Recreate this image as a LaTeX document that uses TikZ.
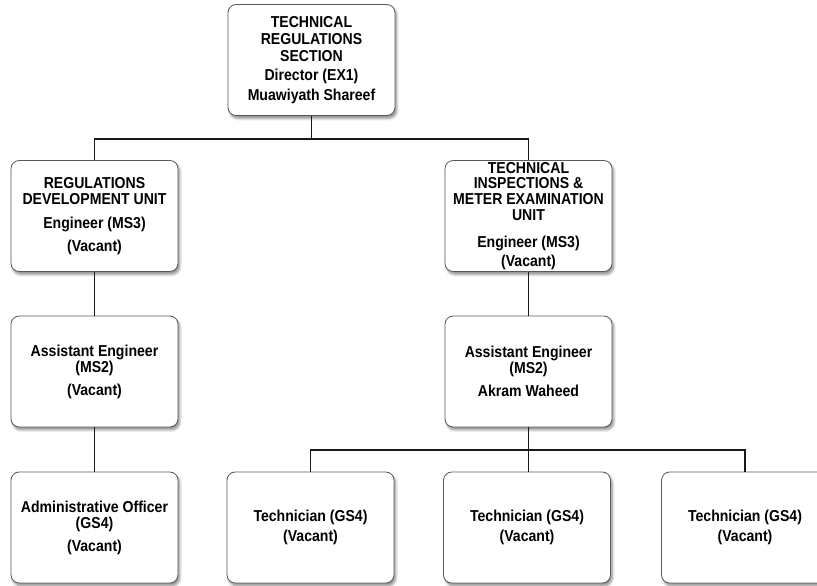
\documentclass[tikz,border=0pt]{standalone}
\usepackage{fontspec}
\setmainfont{Liberation Sans}[FakeStretch=0.89]
\usetikzlibrary{shadows.blur}
\begin{document}
\begin{tikzpicture}[x=0.03cm,y=-0.03cm,
    post/.style={draw=black!65,line width=0.7pt,fill=white,rounded corners=7pt,
        minimum width=5.01cm,minimum height=3.33cm,inner sep=0pt,align=center,
        font=\fontsize{13.5}{13.6}\selectfont\bfseries,
        blur shadow={shadow xshift=1.5pt,shadow yshift=-2.5pt,shadow blur steps=6,shadow opacity=45}},
    link/.style={black!90,line width=1pt}]
        \useasboundingbox (0,0) rectangle (817,585);
        \node[post,font=\fontsize{13.5}{14.6}\selectfont\bfseries](sec)at(311.5,60){TECHNICAL\\REGULATIONS\\SECTION\\[1.5pt]Director (EX1)\\[2pt]Muawiyath Shareef};
        \node[post](rdu)at(94.5,216){REGULATIONS\\DEVELOPMENT UNIT\\[7pt]Engineer (MS3)\\[6pt](Vacant)};
        \node[post](tim)at(528.5,216){TECHNICAL\\INSPECTIONS \&\\METER EXAMINATION\\UNIT\\[9pt]Engineer (MS3)\\[3pt](Vacant)};
        \node[post](aeL)at(94.5,371.5){Assistant Engineer\\(MS2)\\[6pt](Vacant)};
        \node[post](aeR)at(528.5,371.5){Assistant Engineer\\(MS2)\\[6pt]Akram Waheed};
        \node[post](adm)at(94.5,527.5){Administrative Officer\\(GS4)\\[6pt](Vacant)};
        \node[post](teA)at(310.5,527.5){Technician (GS4)\\[3pt](Vacant)};
        \node[post](teB)at(527,527.5){Technician (GS4)\\[3pt](Vacant)};
        \node[post](teC)at(745,527.5){Technician (GS4)\\[3pt](Vacant)};
        \coordinate (busA) at (311.5,139);
        \coordinate (busB) at (528.5,450);
        \draw[link](sec)--(busA);
        \draw[link](rdu.north)|-(busA)-|(tim.north);
        \draw[link](rdu)--(aeL);
        \draw[link](aeL)--(adm);
        \draw[link](tim)--(aeR);
        \draw[link](aeR.south)--(busB);
        \draw[link](teA.north)|-(busB)-|(teC.north);
        \draw[link](busB)--(busB|-teB.north);
    \end{tikzpicture}
\end{document}
